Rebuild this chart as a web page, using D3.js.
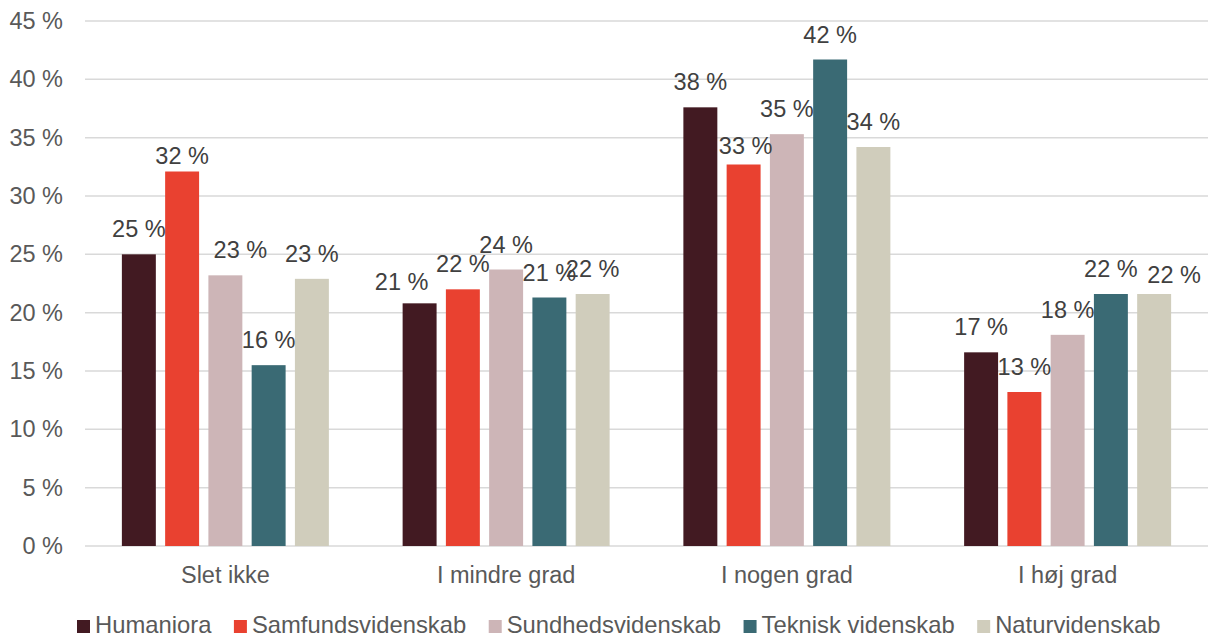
<!DOCTYPE html>
<html>
<head>
<meta charset="utf-8">
<title>Søjlediagram</title>
<style type="text/css">
body { margin: 0; background: #fff; }
svg text { font-family: "Liberation Sans", Arial, sans-serif; }
</style>
<script src="https://cdn.jsdelivr.net/npm/d3@7"></script>
</head>
<body>
<script type="text/javascript">
var width = 1210;
var height = 639;
var fontSize = 23.5;

// data
var categories = ["Slet ikke", "I mindre grad", "I nogen grad", "I høj grad"];
var seriesNames = ["Humaniora", "Samfundsvidenskab", "Sundhedsvidenskab", "Teknisk videnskab", "Naturvidenskab"];
var humaniora = [25.0, 20.8, 37.6, 16.6];
var samfund = [32.1, 22.0, 32.7, 13.2];
var sundhed = [23.2, 23.7, 35.3, 18.1];
var teknisk = [15.5, 21.3, 41.7, 21.6];
var natur = [22.9, 21.6, 34.2, 21.6];
var seriesValues = [humaniora, samfund, sundhed, teknisk, natur];
var colors = ["#421a22", "#e94130", "#cdb5b7", "#3a6a74", "#d0cdbc"];
var yTicks = [0, 5, 10, 15, 20, 25, 30, 35, 40, 45];

// etiketter der er flyttet lidt i originalen (px)
var labelNudge = {
	"Slet ikke|Samfundsvidenskab": [0, 9],
	"Slet ikke|Sundhedsvidenskab": [15, 0],
	"I mindre grad|Humaniora": [-18, 4],
	"I nogen grad|Samfundsvidenskab": [2, 6],
	"I høj grad|Naturvidenskab": [20, 6]
};

var svg = d3.select("body").append("svg")
	.attr("width", width)
	.attr("height", height);

var x0 = d3.scaleBand().domain(categories).range([85, 1208]).padding(0);
var groupSpan = 207;
var x1 = d3.scaleBand().domain(seriesNames)
	.range([(x0.bandwidth() - groupSpan) / 2, (x0.bandwidth() + groupSpan) / 2])
	.paddingInner(0.215).paddingOuter(0);
var y = d3.scaleLinear().domain([0, 45]).range([546, 21]);

// gitterlinjer
svg.append("g").selectAll("line").data(yTicks).enter().append("line")
	.attr("x1", 85).attr("x2", 1208)
	.attr("y1", function(d){ return y(d); })
	.attr("y2", function(d){ return y(d); })
	.attr("stroke", "#d9d9d9")
	.attr("stroke-width", 1.5);

// y-akse
var yAxis = d3.axisLeft(y).tickValues(yTicks).tickSize(0).tickPadding(0)
	.tickFormat(function(d){ return d + " %"; });
var gy = svg.append("g").attr("transform", "translate(63,0)").call(yAxis);
gy.select(".domain").remove();
gy.selectAll("text").attr("font-size", fontSize).attr("fill", "#595959")
	.attr("font-family", "Liberation Sans, Arial, sans-serif");

// x-akse
var xAxis = d3.axisBottom(x0).tickSize(0).tickPadding(0);
var gx = svg.append("g").attr("transform", "translate(0,566)").call(xAxis);
gx.select(".domain").remove();
gx.selectAll("text").attr("font-size", fontSize).attr("fill", "#595959")
	.attr("font-family", "Liberation Sans, Arial, sans-serif");

// søjler
var rows = [];
categories.forEach(function(c, i){
	seriesNames.forEach(function(s, j){
		rows.push({cat: c, series: s, value: seriesValues[j][i], color: colors[j]});
	});
});

var bars = svg.append("g");
bars.selectAll("rect").data(rows).enter().append("rect")
	.attr("x", function(d){ return x0(d.cat) + x1(d.series); })
	.attr("y", function(d){ return y(d.value); })
	.attr("width", x1.bandwidth())
	.attr("height", function(d){ return y(0) - y(d.value); })
	.attr("fill", function(d){ return d.color; });

function nudge(d){ return labelNudge[d.cat + "|" + d.series] || [0, 0]; }

bars.selectAll("text").data(rows).enter().append("text")
	.attr("x", function(d){ return x0(d.cat) + x1(d.series) + x1.bandwidth() / 2 + nudge(d)[0]; })
	.attr("y", function(d){ return y(d.value) - 17 + nudge(d)[1]; })
	.attr("text-anchor", "middle")
	.attr("font-size", fontSize)
	.attr("fill", "#404040")
	.text(function(d){ return Math.round(d.value) + " %"; });

// legende
var legend = svg.append("g").attr("transform", "translate(0,626)");
var lx = 77;
seriesNames.forEach(function(s, j){
	var item = legend.append("g").attr("transform", "translate(" + lx + ",0)");
	item.append("rect").attr("x", 0).attr("y", -6).attr("width", 13).attr("height", 13)
		.attr("fill", colors[j]);
	var t = item.append("text").attr("x", 18).attr("y", 7)
		.attr("font-size", 23.8).attr("fill", "#595959").text(s);
	lx += 18 + t.node().getComputedTextLength() + 22.5;
});
</script>
</body>
</html>
